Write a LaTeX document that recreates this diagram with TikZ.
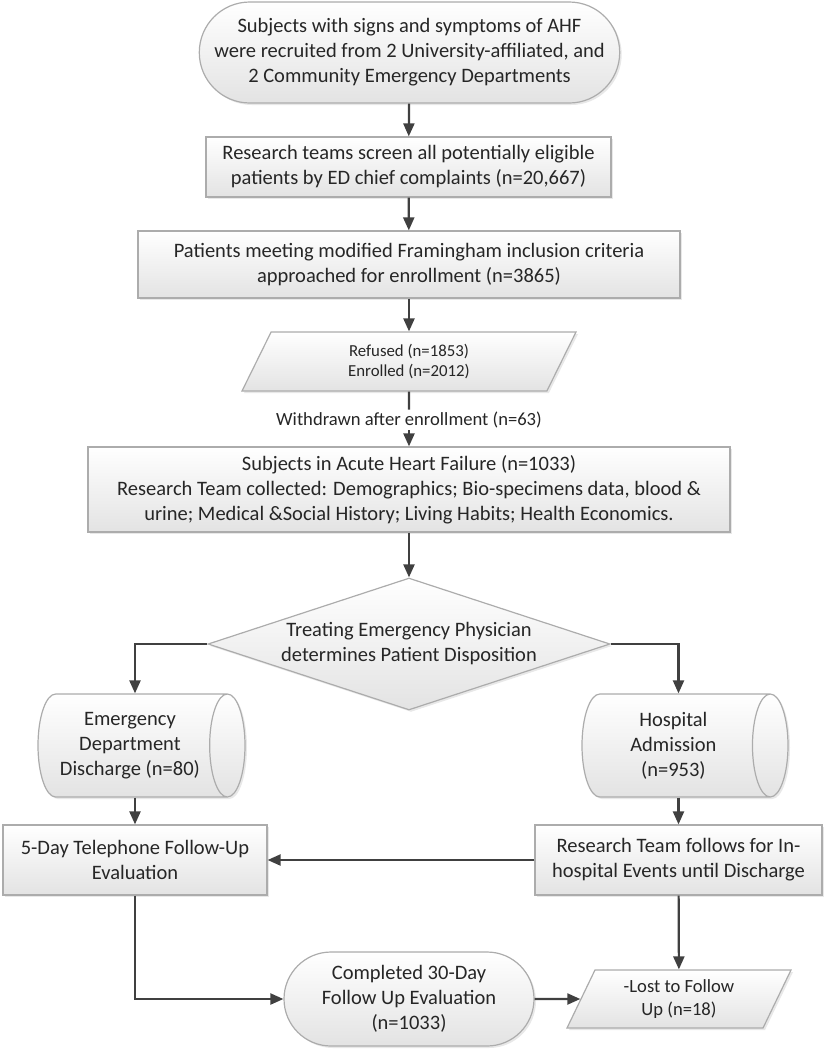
\documentclass[tikz,border=0pt]{standalone}
\usepackage{fontspec}
\setmainfont{Carlito}
\usetikzlibrary{shapes.geometric}
\usetikzlibrary{shapes.misc}
\usetikzlibrary{shadows}
\usetikzlibrary{arrows.meta}
\tikzset{
    mybox/.style = {rectangle, draw=gray!65, line width=1.2pt, top color=white, bottom color=gray!22, align=center, inner sep=2pt, drop shadow={opacity=0.18,shadow xshift=2pt,shadow yshift=-2pt}},
    myterm/.style = {mybox, rounded rectangle},
    mypara/.style = {mybox, trapezium, trapezium left angle=63, trapezium right angle=117, trapezium stretches body},
    mydia/.style = {mybox, diamond, aspect=3, inner sep=0pt},
    mycyl/.style = {mybox, cylinder, aspect=0.5, anchor=shape center},
    edgea/.style = {-{Triangle[length=13pt,width=11pt]}, line width=2.2pt, black!75},
    edgel/.style = {-, line width=2.2pt, black!75},
    smallfont/.style = {font=\fontsize{16.8}{20.5}\selectfont},
    midfont/.style = {font=\fontsize{18.6}{23}\selectfont}
}
\begin{document}
\begin{tikzpicture}[x=1pt, y=-1pt, font=\fontsize{20.5}{25}\selectfont, text=black!85]
  \useasboundingbox (0,0) rectangle (828,1050);
  % main column
  \node[myterm, minimum width=407pt, minimum height=101pt] (recruit) at (409.5,52.5)
    {Subjects with signs and symptoms of AHF\\were recruited from 2 University-affiliated, and\\2 Community Emergency Departments};
  \node[mybox, minimum width=405pt, minimum height=60pt] (screen) at (408.5,167)
    {Research teams screen all potentially eligible\\patients by ED chief complaints (n=20,667)};
  \node[mybox, minimum width=542pt, minimum height=67pt] (approach) at (409,264.5)
    {Patients meeting modified Framingham inclusion criteria\\approached for enrollment (n=3865)};
  \node[mypara, smallfont, inner ysep=11pt, minimum width=334pt, minimum height=59pt] (enrol) at (409,361.5)
    {Refused (n=1853)\\Enrolled (n=2012)};
  \node[midfont, inner sep=2pt] (withdraw) at (409,420) {Withdrawn after enrollment (n=63)};
  \node[mybox, minimum width=642pt, minimum height=85pt] (ahf) at (409,489.5)
    {Subjects in Acute Heart Failure (n=1033)\\Research Team collected: Demographics; Bio-specimens data, blood \&\\urine; Medical \&Social History; Living Habits; Health Economics.};
  \node[mydia, minimum width=402pt, minimum height=132pt] (dispo) at (409,644)
    {Treating Emergency Physician\\determines Patient Disposition};
  % two branches
  \node[mycyl, minimum width=103pt, minimum height=207pt] (edis) at (141.5,745.5)
    {Emergency\\Department\\Discharge (n=80)};
  \node[mycyl, minimum width=103pt, minimum height=206pt] (admit) at (685,745.5)
    {Hospital\\Admission\\(n=953)};
  \node[mybox, minimum width=264pt, minimum height=70pt] (phone) at (135,860)
    {5-Day Telephone Follow-Up\\Evaluation};
  \node[mybox, minimum width=287pt, minimum height=70pt] (inhosp) at (678.5,860)
    {Research Team follows for In-\\hospital Events until Discharge};
  \node[myterm, minimum width=254pt, minimum height=94pt] (done) at (409,999)
    {Completed 30-Day\\Follow Up Evaluation\\(n=1033)};
  \node[mypara, midfont, inner ysep=8pt, minimum width=224pt, minimum height=58pt] (lost) at (679,999)
    {-Lost to Follow\\Up (n=18)};
  % connectors
  \draw[edgea] (recruit) -- (screen);
  \draw[edgea] (screen) -- (approach);
  \draw[edgea] (approach) -- (enrol);
  \draw[edgel] (enrol) -- (withdraw);
  \draw[edgea] (withdraw) -- (ahf);
  \draw[edgea] (ahf) -- (dispo);
  \draw[edgea] (dispo.west) -| (edis.north -| phone);
  \draw[edgea] (dispo.east) -| (admit.north -| inhosp);
  \draw[edgea] (edis.south -| phone) -- (phone);
  \draw[edgea] (admit.south -| inhosp) -- (inhosp);
  \draw[edgea] (inhosp) -- (phone);
  \draw[edgea] (phone) |- (done);
  \draw[edgea] (inhosp) -- (lost);
  \draw[edgea] (done) -- (lost);
\end{tikzpicture}
\end{document}
